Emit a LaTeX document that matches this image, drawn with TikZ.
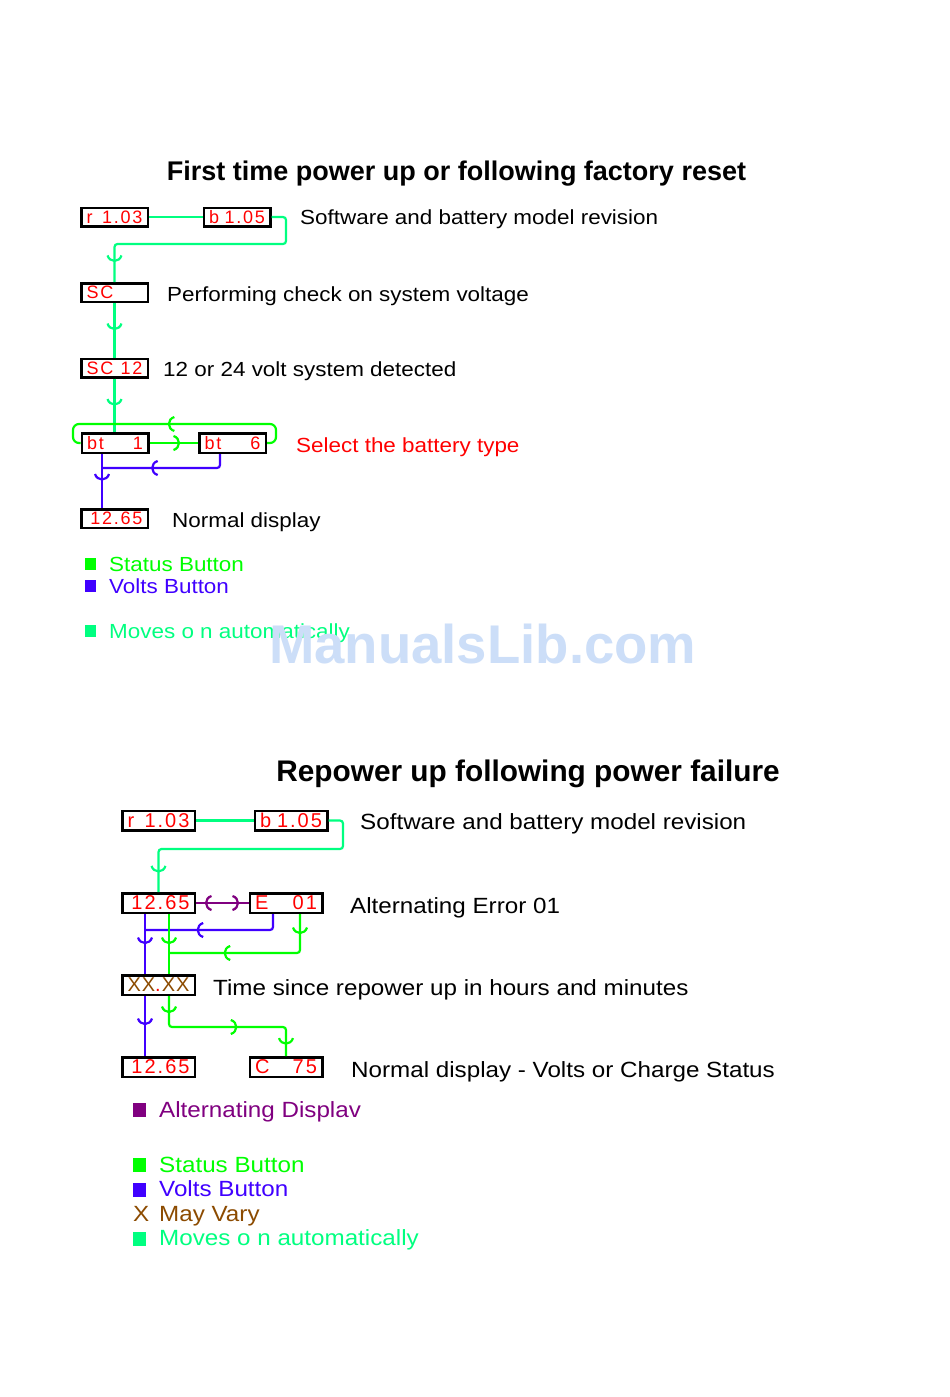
\documentclass[tikz,border=0pt]{standalone}
\usepackage{fontspec}
\setmainfont{Liberation Sans}[FakeStretch=1.1]
\newfontfamily\titlefont{Liberation Sans}
\newfontfamily\segfont{Liberation Sans}[LetterSpace=10]
\usetikzlibrary{arrows.meta,decorations.markings,calc}
\definecolor{autog}{RGB}{0,255,128}
\definecolor{statg}{RGB}{0,255,0}
\definecolor{voltb}{RGB}{64,0,255}
\definecolor{altp}{RGB}{128,0,128}
\definecolor{mayb}{RGB}{140,75,0}
\definecolor{wmark}{RGB}{204,222,248}
\newcommand\seg[3][56pt]{\makebox[#1]{#2\hfill#3}}
\newcommand\barbhead{\draw[line width=2.2pt,sharp corners] (-5.5pt,-7pt) .. controls (-2pt,-6pt) and (0pt,-3pt) .. (0pt,0pt) .. controls (0pt,3pt) and (-2pt,6pt) .. (-5.5pt,7pt);}
\begin{document}
\begin{tikzpicture}[x=1pt,y=-1pt,
  segT/.style={draw, line width=2.5pt, minimum width=66.5pt, minimum height=18.5pt, inner sep=0pt, text=red, font=\segfont\fontsize{18}{20}\selectfont},
  segB/.style={segT, minimum width=72.5pt, minimum height=19.5pt, font=\segfont\fontsize{20}{22}\selectfont},
  lblT/.style={anchor=base west, inner sep=0pt, font=\fontsize{20.4}{24}\selectfont},
  lblB/.style={anchor=base west, inner sep=0pt, font=\fontsize{22}{26}\selectfont},
  ttlT/.style={anchor=base, inner sep=0pt, font=\titlefont\bfseries\fontsize{27}{30}\selectfont},
  ttlB/.style={anchor=base, inner sep=0pt, font=\titlefont\bfseries\fontsize{29.8}{32}\selectfont},
  swT/.style={fill=#1, inner sep=0pt, minimum width=11pt, minimum height=12pt, anchor=north west},
  swB/.style={fill=#1, inner sep=0pt, minimum width=13pt, minimum height=14pt, anchor=north west},
  wire/.style={line width=2.2pt, rounded corners=3pt},
  am/.style={postaction={decorate,decoration={markings,mark=at position #1 with {\barbhead}}}},
  amr/.style={postaction={decorate,decoration={markings,mark=at position #1 with {\begin{scope}[xscale=-1]\barbhead\end{scope}}}}}
]
\useasboundingbox[fill=white] (0,0) rectangle (950,1397);

% ---------- top diagram ----------
\node[ttlT] (t1) at (456.5,180) {First time power up or following factory reset};

\node[segT] (tr1) at (114.5,217) {\seg{r}{1.03}};
\node[segT] (tb1) at (237,217) {\seg{b}{1.05}};
\node[segT] (tsc) at (114.5,292.5) {\seg{SC}{}};
\node[segT] (tsc12) at (114.5,368) {\seg{SC}{12}};
\node[segT, minimum height=19.5pt] (tbt1) at (115,443) {\seg{bt}{1}};
\node[segT, minimum height=19.5pt] (tbt6) at (232.5,443) {\seg{bt}{6}};
\node[segT] (tnorm) at (114.5,518.5) {\seg{}{12.65}};

\node[lblT] (l1) at (300,224) {Software and battery model revision};
\node[lblT] (l2) at (167,301) {Performing check on system voltage};
\node[lblT] (l3) at (163,376.5) {12 or 24 volt system detected};
\node[lblT, text=red] (l4) at (296,452) {Select the battery type};
\node[lblT] (l5) at (172,527.5) {Normal display};

\coordinate (c1) at (286,244);
\coordinate (c2) at (276,424);
\coordinate (c3) at (73,424);
\coordinate (c4) at (102,468);

\draw[wire,autog] (tr1) -- (tb1);
\draw[wire,autog,am=226pt] (tb1.east) -| (c1) -| (tsc.north);
\draw[wire,autog,am=26pt] (tsc) -- (tsc12);
\draw[wire,autog,am=26pt] (tsc12.south) -- (tsc12.south |- tbt1.north);
\draw[wire,statg,rounded corners=6pt,am=130pt] (tbt6.east) -| (c2) -- (c3) |- (tbt1.west);
\draw[wire,statg,am=29.5pt] (tbt1) -- (tbt6);
\draw[wire,voltb,am=80.5pt] ([xshift=-12.5pt]tbt6.south) |- (c4);
\draw[wire,voltb,am=25.5pt] ([xshift=-13pt]tbt1.south) -- ([xshift=-12.5pt]tnorm.north);

\node[swT=statg] (k1) at (85,558) {};
\node[lblT, text=statg] (k1t) at (109,571) {Status Button};
\node[swT=voltb] (k2) at (85,580) {};
\node[lblT, text=voltb] (k2t) at (109,593) {Volts Button};
\node[swT=autog] (k3) at (85,625) {};
\node[lblT, text=autog] (k3t) at (109,638) {Moves o n automatically};

% ---------- bottom diagram ----------
\node[ttlB] (t2) at (528,781) {Repower up following power failure};

\node[segB] (br1) at (158.5,820.5) {\seg[62pt]{r}{1.03}};
\node[segB] (bb1) at (291,820.5) {\seg[62pt]{b}{1.05}};
\node[segB] (b1265) at (158.5,903) {\seg[62pt]{}{12.65}};
\node[segB] (be01) at (286,903) {\seg[62pt]{E}{01}};
\node[segB] (bxx) at (158.5,985) {\seg[62pt]{\textcolor{mayb}{X}\hfill\textcolor{mayb}{X}.}{\textcolor{mayb}{X}\hfill\textcolor{mayb}{X}}};
\node[segB] (bn1265) at (158.5,1067) {\seg[62pt]{}{12.65}};
\node[segB] (bc75) at (286,1067) {\seg[62pt]{C}{75}};

\node[lblB] (m1) at (360,829) {Software and battery model revision};
\node[lblB] (m2) at (350,913) {Alternating Error 01};
\node[lblB] (m3) at (213,995) {Time since repower up in hours and minutes};
\node[lblB] (m4) at (351,1077) {Normal display - Volts or Charge Status};

\coordinate (c5) at (343,849);
\coordinate (c6) at (145,930);
\coordinate (c7) at (169,953);
\coordinate (c8) at (286,1027);

\draw[wire,autog] (br1) -- (bb1);
\draw[wire,autog,am=246pt] (bb1.east) -| (c5) -| (b1265.north);
\draw[wire,altp,amr=10pt,am=42pt] (b1265) -- (be01);
\draw[wire,voltb,am=90pt] ([xshift=-13pt]be01.south) |- (c6);
\draw[wire,voltb,am=29pt] ([xshift=-13.5pt]b1265.south) -- ([xshift=-13.5pt]bxx.north);
\draw[wire,statg,am=19pt,am=113pt] ([xshift=14pt]be01.south) |- (c7);
\draw[wire,statg,am=29pt] ([xshift=10.5pt]b1265.south) -- ([xshift=10.5pt]bxx.north);
\draw[wire,voltb,am=28pt] ([xshift=-13.5pt]bxx.south) -- ([xshift=-13.5pt]bn1265.north);
\draw[wire,statg,am=16pt,am=97pt,am=162pt] ([xshift=10.5pt]bxx.south) |- (c8) -- (bc75.north);

\node[swB=altp] (n1) at (133,1103) {};
\node[lblB, text=altp] (n1t) at (159,1117) {Alternating Displav};
\node[swB=statg] (n2) at (133,1158) {};
\node[lblB, text=statg] (n2t) at (159,1172) {Status Button};
\node[swB=voltb] (n3) at (133,1183) {};
\node[lblB, text=voltb] (n3t) at (159,1196) {Volts Button};
\node[lblB, text=mayb] (n4) at (133,1221) {X};
\node[lblB, text=mayb] (n4t) at (159,1221) {May Vary};
\node[swB=autog] (n5) at (133,1232) {};
\node[lblB, text=autog] (n5t) at (159,1245) {Moves o n automatically};

% ---------- watermark ----------
\node[anchor=base west, inner sep=0pt, text=wmark, font=\titlefont\bfseries\fontsize{54.5}{56}\selectfont] (wm) at (269,663) {ManualsLib.com};
\end{tikzpicture}
\end{document}
